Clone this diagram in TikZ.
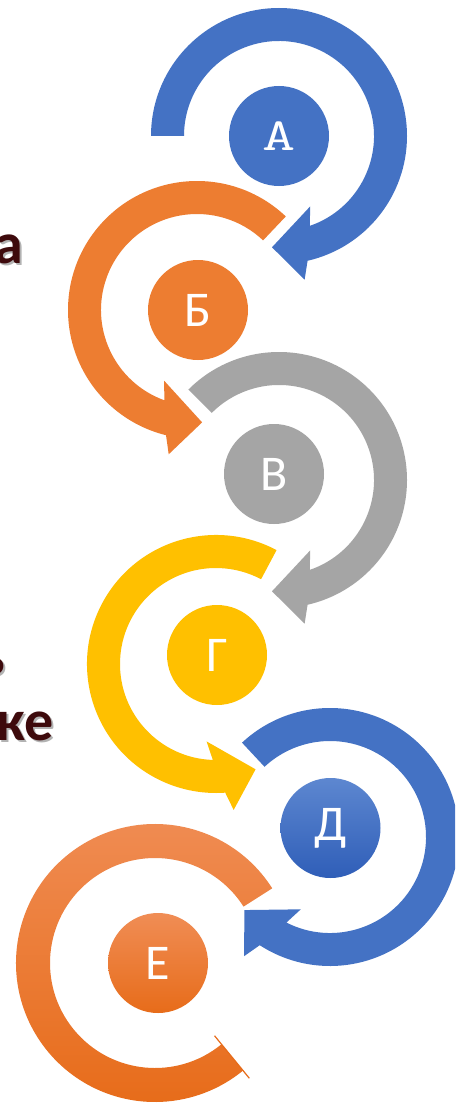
\documentclass[tikz,border=0pt]{standalone}
\usepackage{fontspec}
\newfontfamily\calibri{Carlito}
\definecolor{cblue}{HTML}{4472C4}
\definecolor{corange}{HTML}{ED7D31}
\definecolor{cgray}{HTML}{A5A5A5}
\definecolor{cyellow}{HTML}{FFC000}
\definecolor{blueL}{HTML}{5D87D0}
\definecolor{blueD}{HTML}{2F5EB8}
\definecolor{orL}{HTML}{F08D55}
\definecolor{orD}{HTML}{E76C1A}
\definecolor{maroon}{HTML}{3E0A0C}
\newcommand\myarrow[8]{%
  \begin{scope}[shift={(#1,-#2)}]
    \path[#8] (#5:#4pt) arc[start angle=#5, end angle={#6+#7*16.5}, radius=#4pt]
      -- ({#6+#7*13.7}:{#4pt+18pt}) -- (#6:{(#3pt+#4pt)/2})
      -- ({#6+#7*27.5}:{#3pt-18pt}) -- ({#6+#7*22.5}:#3pt)
      arc[start angle={#6+#7*22.5}, end angle=#5, radius=#3pt] -- cycle;
  \end{scope}}
\tikzset{
  disc/.style={circle, inner sep=0pt, minimum size=100pt, text=white, font=\calibri\fontsize{50}{50}\selectfont},
  sidetext/.style={anchor=base east, inner sep=0pt, text=maroon, font=\calibri\bfseries\fontsize{58}{58}\selectfont},
  shadowtext/.style={sidetext, text=black, opacity=0.3}
}
\begin{document}
\begin{tikzpicture}[x=1pt,y=1pt]
\useasboundingbox (0,0) rectangle (455,-1105);
\clip (0,0) rectangle (455,-1105);
\fill[white] (0,0) rectangle (455,-1105);

% left text fragments (cut by the edge)
\node[shadowtext] (s1) at (25,-265) {а};
\node[sidetext] (t1) at (23,-263) {а};
\node[shadowtext] (s2) at (7,-677) {ь};
\node[sidetext] (t2) at (5,-675) {ь};
\node[shadowtext] (s3) at (56,-742) {ке};
\node[sidetext] (t3) at (54,-740) {ке};

% ring arrows
\myarrow{279}{136}{95}{128}{180}{-93.6}{1}{fill=cblue}
\myarrow{197}{310}{96}{129}{46.5}{272.6}{-1}{fill=corange}
\myarrow{279}{480}{95}{128}{135}{-93.6}{1}{fill=cgray}
\myarrow{216}{664}{96}{129}{62}{290.6}{-1}{fill=cyellow}
\myarrow{330}{837}{96}{129}{133}{-139.5}{1}{fill=cblue}

% last ring (no head)
\begin{scope}[shift={(155,-963)}]
  \shade[top color=orL, bottom color=orD]
    (32.5:139pt) arc[start angle=32.5, end angle=309.3, radius=139pt]
    -- (309.3:105pt) arc[start angle=309.3, end angle=32.5, radius=105pt] -- cycle;
  \coordinate (fa) at (309.3:94pt);
  \coordinate (fb) at (309.3:149pt);
  \draw[orD, line width=1.2pt] (fa) -- (fb);
\end{scope}

% discs
\node[disc, fill=cblue, font=\ttfamily\fontsize{46}{46}\selectfont] (A) at (279,-136) {\scalebox{1.4}[1]{A}};
\node[disc, fill=corange] (B) at (198,-310) {Б};
\node[disc, fill=cgray] (V) at (274,-474) {В};
\node[disc, fill=cyellow] (G) at (217,-655) {Г};
\node[disc, top color=blueL, bottom color=blueD] (D) at (330.5,-828) {Д};
\node[disc, top color=orL, bottom color=orD] (E) at (158,-963) {Е};
\end{tikzpicture}
\end{document}
